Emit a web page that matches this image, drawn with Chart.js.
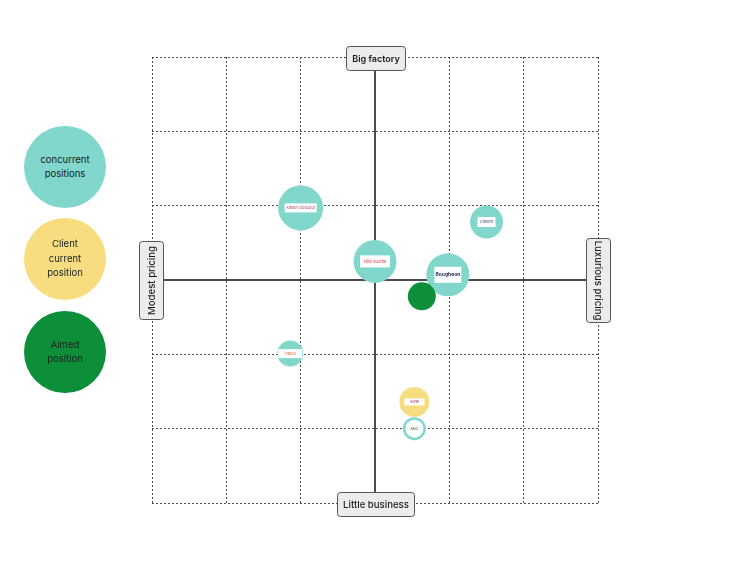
<!DOCTYPE html>
<html>
<head>
<meta charset="utf-8">
<script src="https://cdn.jsdelivr.net/npm/chart.js@4/dist/chart.umd.min.js"></script>
<style>
  body { margin:0; background:#fff; font-family:Inter, "Noto Sans", sans-serif; }
  #wrap { position:relative; width:750px; height:563px; }
  canvas { position:absolute; left:0; top:0; }
  .leg { position:absolute; width:82px; height:82px; border-radius:50%; display:flex;
         align-items:center; justify-content:center; text-align:center; font-size:9.5px;
         line-height:14.5px; color:#15201f; }
</style>
</head>
<body>
<div id="wrap">
  <canvas id="myChart" width="750" height="563"></canvas>
  <div class="leg" style="left:24px;top:126px;background:#82d7cd">concurrent<br>positions</div>
  <div class="leg" style="left:24px;top:218px;background:#f8dd80">Client<br>current<br>position</div>
  <div class="leg" style="left:24px;top:311px;background:#0c8f38">Aimed<br>position</div>
</div>
<script>
// positioning values: x = pricing (modest -3 .. luxurious 3), y = size (little -3 .. big 3)
var companies = ['Atelier Douceur','Fête Sucrée','Bougheon','Ciment','Fleurs','ABC','Alew','Aimed'];
var pricing   = [-1.0, 0.0, 0.98, 1.5, -1.14, 0.53, 0.53, 0.63];
var size      = [0.97, 0.25, 0.07, 0.78, -0.99, -2.0, -1.64, -0.22];
var weight    = [22.5, 21.5, 21.5, 16.5, 13, 11.5, 15, 14];
var kind      = ['concurrent','concurrent','concurrent','concurrent','concurrent','concurrent','client','aimed'];

var kindColor = { concurrent:'#82d7cd', client:'#f8dd80', aimed:'#0c8f38' };
// logo box sizes (w,h) drawn inside the bubbles
var logoBox = [[32,9],[30,12],[27,16],[18,10],[24,9],[16,16],[20,7],null];
var logoColor = ['#b0406a','#d8283c','#2a2f5a','#3a3f6a','#e0602a','#2f5a2a','#a0305a',null];

var points = pricing.map(function(p,i){ return {x:p, y:size[i], r:weight[i]}; });

const axesPlugin = {
  id:'axes',
  beforeDatasetsDraw(chart){
    const c = chart.ctx, xs = chart.scales.x, ys = chart.scales.y;
    const x0 = xs.getPixelForValue(0), y0 = ys.getPixelForValue(0);
    c.save();
    c.strokeStyle = '#111';
    c.lineWidth = 1.5;
    c.beginPath();
    c.moveTo(x0, 70); c.lineTo(x0, 493);
    c.moveTo(163, y0); c.lineTo(586, y0);
    c.stroke();
    c.restore();
  },
  afterDatasetsDraw(chart){
    const c = chart.ctx, meta = chart.getDatasetMeta(0);
    c.save();
    meta.data.forEach(function(el,i){
      const b = logoBox[i];
      if(!b) return;
      const w = b[0], h = b[1];
      c.fillStyle = '#fff';
      if(i === 5){
        c.beginPath(); c.arc(el.x, el.y, 9, 0, Math.PI*2); c.fill();
      } else {
        c.fillRect(el.x - w/2, el.y - h/2, w, h);
      }
      c.fillStyle = logoColor[i];
      c.font = (i === 2 ? 'bold 5px' : '4px') + ' Inter, sans-serif';
      c.textAlign = 'center'; c.textBaseline = 'middle';
      c.fillText(companies[i], el.x, el.y);
    });
    c.restore();
  },
  afterDraw(chart){
    const c = chart.ctx;
    function box(x,y,w,h,text,rot,bold){
      c.save();
      c.fillStyle = '#ececec';
      c.strokeStyle = '#555';
      c.lineWidth = 1;
      c.beginPath();
      c.roundRect(x+0.5, y+0.5, w, h, 3);
      c.fill(); c.stroke();
      c.translate(x + w/2 + 0.5, y + h/2 + 0.5);
      c.rotate(rot);
      c.fillStyle = '#1a1a1a';
      c.font = (bold ? '600 9px' : '500 9.6px') + ' Inter, sans-serif';
      c.textAlign = 'center'; c.textBaseline = 'middle';
      c.fillText(text, 0, 1);
      c.restore();
    }
    box(346, 46, 59, 24, 'Big factory', 0, true);
    box(337, 492, 77, 24, 'Little business', 0, false);
    box(139, 241, 24, 78, 'Modest pricing', -Math.PI/2, false);
    box(586, 238, 24, 84, 'Luxurious pricing', Math.PI/2, false);
  }
};

function gridColor(c){ return c.tick && c.tick.value === 0 ? 'rgba(0,0,0,0)' : '#4a4a4a'; }

const ctx = document.getElementById('myChart');

new Chart(ctx, {
  type: 'bubble',
  data: {
    labels: companies,
    datasets: [{
      label: 'positions',
      data: points,
      backgroundColor: kind.map(function(k){ return kindColor[k]; }),
      borderWidth: 0,
      hoverRadius: 0
    }]
  },
  options: {
    responsive: false,
    animation: false,
    events: [],
    layout: { padding: { left: 152, right: 152, top: 57, bottom: 60 } },
    scales: {
      x: {
        min: -3, max: 3,
        ticks: { display: false, stepSize: 1 },
        border: { display: false, dash: [2, 2] },
        grid: { drawTicks: false, color: gridColor, lineWidth: 1 }
      },
      y: {
        min: -3, max: 3,
        ticks: { display: false, stepSize: 1 },
        border: { display: false, dash: [2, 2] },
        grid: { drawTicks: false, color: gridColor, lineWidth: 1 }
      }
    },
    plugins: {
      legend: { display: false },
      tooltip: { enabled: false },
      title: { display: false }
    }
  },
  plugins: [axesPlugin]
});
</script>
</body>
</html>
